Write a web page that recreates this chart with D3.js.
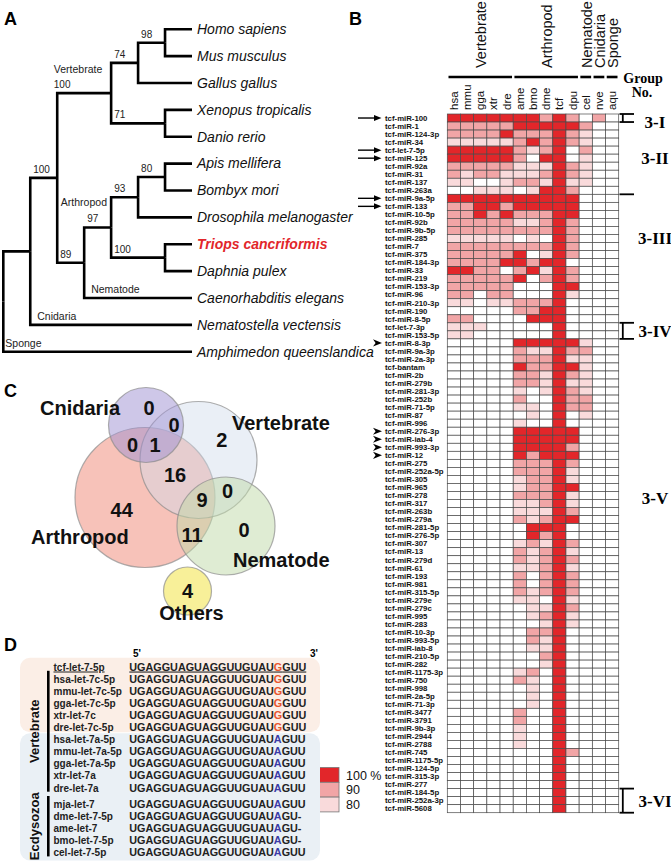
<!DOCTYPE html>
<html>
<head>
<meta charset="utf-8">
<script src="https://cdn.jsdelivr.net/npm/d3@7"></script>
<style>
  body { margin: 0; background: #fff; }
  svg { display: block; }
</style>
</head>
<body>
<svg id="fig" width="671" height="866"></svg>
<script>
// ---------------- data ----------------
// A: species tree (bootstrap values, clade names)
const treeData = {children: [
  {children: [
    {boot: 100, children: [
      {clade: "Vertebrate", boot: 100, children: [
        {boot: 74, children: [
          {boot: 98, children: [{name: "Homo sapiens"}, {name: "Mus musculus"}]},
          {name: "Gallus gallus"}]},
        {boot: 71, children: [{name: "Xenopus tropicalis"}, {name: "Danio rerio"}]}]},
      {boot: 89, children: [
        {clade: "Arthropod", boot: 97, children: [
          {boot: 93, children: [
            {boot: 80, children: [{name: "Apis mellifera"}, {name: "Bombyx mori"}]},
            {name: "Drosophila melanogaster"}]},
          {boot: 100, children: [{name: "Triops cancriformis", focus: true}, {name: "Daphnia pulex"}]}]},
        {name: "Caenorhabditis elegans", clade: "Nematode"}]}]},
    {name: "Nematostella vectensis", clade: "Cnidaria"}]},
  {name: "Amphimedon queenslandica", clade: "Sponge"}]};

// B: heatmap
const speciesCodes = ["hsa","mmu","gga","xtr","dre","ame","bmo","dme","tcf","dpu","cel","nve","aqu"];
const taxonGroups = [
  {name: "Vertebrate", codes: ["hsa","mmu","gga","xtr","dre"]},
  {name: "Arthropod", codes: ["ame","bmo","dme","tcf","dpu"]},
  {name: "Nematode", codes: ["cel"]},
  {name: "Cnidaria", codes: ["nve"]},
  {name: "Sponge", codes: ["aqu"]}
];
const mirnas = [
  "tcf-miR-100","tcf-miR-1","tcf-miR-124-3p","tcf-miR-34","tcf-let-7-5p","tcf-miR-125","tcf-miR-92a",
  "tcf-miR-31","tcf-miR-137","tcf-miR-263a","tcf-miR-9a-5p","tcf-miR-133","tcf-miR-10-5p","tcf-miR-92b",
  "tcf-miR-9b-5p","tcf-miR-285","tcf-miR-7","tcf-miR-375","tcf-miR-184-3p","tcf-miR-33","tcf-miR-219",
  "tcf-miR-153-3p","tcf-miR-96","tcf-miR-210-3p","tcf-miR-190","tcf-miR-8-5p","tcf-let-7-3p","tcf-miR-153-5p",
  "tcf-miR-8-3p","tcf-miR-9a-3p","tcf-miR-2a-3p","tcf-bantam","tcf-miR-2b","tcf-miR-279b","tcf-miR-281-3p",
  "tcf-miR-252b","tcf-miR-71-5p","tcf-miR-87","tcf-miR-996","tcf-miR-276-3p","tcf-miR-iab-4","tcf-miR-993-3p",
  "tcf-miR-12","tcf-miR-275","tcf-miR-252a-5p","tcf-miR-305","tcf-miR-965","tcf-miR-278","tcf-miR-317",
  "tcf-miR-263b","tcf-miR-279a","tcf-miR-281-5p","tcf-miR-276-5p","tcf-miR-307","tcf-miR-13","tcf-miR-279d",
  "tcf-miR-61","tcf-miR-193","tcf-miR-981","tcf-miR-315-5p","tcf-miR-279e","tcf-miR-279c","tcf-miR-995",
  "tcf-miR-283","tcf-miR-10-3p","tcf-miR-993-5p","tcf-miR-iab-8","tcf-miR-210-5p","tcf-miR-282",
  "tcf-miR-1175-3p","tcf-miR-750","tcf-miR-998","tcf-miR-2a-5p","tcf-miR-71-3p","tcf-miR-3477",
  "tcf-miR-3791","tcf-miR-9b-3p","tcf-miR-2944","tcf-miR-2788","tcf-miR-745","tcf-miR-1175-5p",
  "tcf-miR-124-5p","tcf-miR-315-3p","tcf-miR-277","tcf-miR-184-5p","tcf-miR-252a-3p","tcf-miR-5608"
];
// identity level per species (order of speciesCodes): 3 = 100 %, 2 = 90 %, 1 = 80 %, 0 = none
const identity = [
  "3333333232020","2222233333200","2222322232100","1111123232100","3333321230200","3333320330100",
  "2222211132100","2122111232100","1100122131100","0011101332000","3333333333000","2233233333000",
  "2232322233000","2222211232000","2222222232000","1111101032000","2222222232000","2222230132000",
  "2222332330000","3322023132000","2222230232000","2222200033000","2202200031000","1101122230000",
  "0000022330000","2200003330000","1110000030000","1100000030000","0000033333100","0000021132200",
  "0000022231100","0000032233100","0000022132100","0000022131100","0000010132100","0000020032200",
  "0000011032200","0000001030100","0000010030000","0000033333000","0000033333000","0000033332000",
  "0000032333000","0000022232000","0000022231000","0000012231000","0000012233000","0000022231000",
  "0000011231000","0000011132000","0000021233000","0000003330000","0000003230000","0000012132000",
  "0000021231000","0000021232000","0000011231000","0000020232000","0000020232000","0000021232000",
  "0000011031000","0000001132000","0000001231000","0000000131000","0000002230000","0000002130000",
  "0000001130000","0000000230000","0000000130000","0000012030000","0000021030000","0000001030000",
  "0000001030000","0000001030000","0000020030000","0000020030000","0000010030000","0000010030000",
  "0000010030000","0000000032000","0000000030000","0000000030000","0000000030000","0000000030000",
  "0000000030000","0000000030000","0000000030000"
];
const arrowRows = ["tcf-miR-100","tcf-let-7-5p","tcf-miR-125","tcf-miR-9a-5p","tcf-miR-133"];
const headRows = ["tcf-miR-8-3p","tcf-miR-276-3p","tcf-miR-iab-4","tcf-miR-993-3p","tcf-miR-12"];
const miGroups = [
  {label: "3-I",   first: "tcf-miR-100",   last: "tcf-miR-100",   bracket: true,  labelRow: 0.96},
  {label: "3-II",  first: "tcf-miR-1",     last: "tcf-miR-263a",  bracket: false, labelRow: 5.5},
  {label: "3-III", first: "tcf-miR-9a-5p", last: "tcf-miR-8-5p",  bracket: false, labelRow: 15.4},
  {label: "3-IV",  first: "tcf-let-7-3p",  last: "tcf-miR-153-5p",bracket: true,  labelRow: 27},
  {label: "3-V",   first: "tcf-miR-8-3p",  last: "tcf-miR-277",   bracket: false, labelRow: 47.8},
  {label: "3-VI",  first: "tcf-miR-184-5p",last: "tcf-miR-5608",  bracket: true,  labelRow: 85.6}
];
const legendLevels = [{code: 3, label: "100 %"}, {code: 2, label: "90"}, {code: 1, label: "80"}];

// C: Venn counts
const vennSets = ["Cnidaria","Vertebrate","Arthropod","Nematode","Others"];
const vennCounts = [
  {key: "C", n: 0}, {key: "CV", n: 0}, {key: "CA", n: 0}, {key: "CVA", n: 1},
  {key: "V", n: 2}, {key: "VA", n: 16}, {key: "VAN", n: 9}, {key: "VN", n: 0},
  {key: "A", n: 44}, {key: "AN", n: 11}, {key: "N", n: 0}, {key: "O", n: 4}
];

// D: let-7 alignment
const let7Names = ["tcf-let-7-5p","hsa-let-7c-5p","mmu-let-7c-5p","gga-let-7c-5p","xtr-let-7c","dre-let-7c-5p",
  "hsa-let-7a-5p","mmu-let-7a-5p","gga-let-7a-5p","xtr-let-7a","dre-let-7a",
  "mja-let-7","dme-let-7-5p","ame-let-7","bmo-let-7-5p","cel-let-7-5p"];
const let7Seqs = ["UGAGGUAGUAGGUUGUAUGGUU","UGAGGUAGUAGGUUGUAUGGUU","UGAGGUAGUAGGUUGUAUGGUU","UGAGGUAGUAGGUUGUAUGGUU",
  "UGAGGUAGUAGGUUGUAUGGUU","UGAGGUAGUAGGUUGUAUGGUU","UGAGGUAGUAGGUUGUAUAGUU","UGAGGUAGUAGGUUGUAUAGUU",
  "UGAGGUAGUAGGUUGUAUAGUU","UGAGGUAGUAGGUUGUAUAGUU","UGAGGUAGUAGGUUGUAUAGUU","UGAGGUAGUAGGUUGUAUAGUU",
  "UGAGGUAGUAGGUUGUAUAGU-","UGAGGUAGUAGGUUGUAUAGU-","UGAGGUAGUAGGUUGUAUAGU-","UGAGGUAGUAGGUUGUAUAGUU"];
const let7Clades = [{name: "Vertebrate", first: 1, last: 10}, {name: "Ecdysozoa", first: 11, last: 15}];
const variantPos = 18; // 0-based position of the G/A variant

// ---------------- drawing ----------------
const SANS = '"Liberation Sans", Arial, Helvetica, sans-serif';
const SERIF = '"Liberation Serif", "Times New Roman", serif';
const RED = "#e2262a";
const svg = d3.select("#fig").style("font-family", SANS);

function panelLabel(t, x, y) {
  svg.append("text").attr("x", x).attr("y", y).text(t)
    .attr("font-size", 18).attr("font-weight", "bold");
}
panelLabel("A", 4, 25); panelLabel("B", 349, 25); panelLabel("C", 4, 397); panelLabel("D", 4, 651);

// ---- A: tree ----
const root = d3.hierarchy(treeData);
d3.cluster().nodeSize([1, 1]).separation(() => 1)(root);
const leaves = root.leaves();
const tx = d3.scaleLinear().domain([0, d3.max(leaves, d => d.y)]).range([3.3, 192]);
const ty = d3.scaleLinear().domain(d3.extent(leaves, d => d.x)).range([29.3, 351.7]);
const gA = svg.append("g");

gA.selectAll("path.link")
  .data(root.descendants().filter(d => d.parent))
  .join("path")
    .attr("fill", "none").attr("stroke", "#000").attr("stroke-width", 2.6)
    .attr("d", d => `M${tx(d.parent.y)},${ty(d.parent.x)}V${ty(d.x)}H${tx(d.y)}`);

gA.selectAll("text.leaf")
  .data(leaves)
  .join("text")
    .attr("x", d => tx(d.y) + 5).attr("y", d => ty(d.x) + 4.8)
    .attr("font-size", 14).attr("font-style", "italic")
    .attr("font-weight", d => d.data.focus ? "bold" : "normal")
    .attr("fill", d => d.data.focus ? RED : "#111")
    .text(d => d.data.name);

gA.selectAll("text.boot")
  .data(root.descendants().filter(d => d.data.boot))
  .join("text")
    .attr("x", d => tx(d.parent.y) + (d.data.clade === "Vertebrate" ? -3.4 : 3))
    .attr("y", d => ty(d.x) - 5)
    .attr("font-size", 10).attr("fill", "#222")
    .text(d => d.data.boot);

const cladeOffset = {
  Vertebrate: {dx: -3.4, dy: -20}, Arthropod: {dx: -23.3, dy: -21},
  Nematode: {dx: 7, dy: -5}, Cnidaria: {dx: 7, dy: -5}, Sponge: {dx: 2, dy: -5}
};
gA.selectAll("text.clade")
  .data(root.descendants().filter(d => d.data.clade))
  .join("text")
    .attr("x", d => tx(d.parent.y) + cladeOffset[d.data.clade].dx)
    .attr("y", d => ty(d.x) + cladeOffset[d.data.clade].dy)
    .attr("font-size", 10.5).attr("fill", "#222")
    .text(d => d.data.clade);

// ---- B: heatmap ----
const gB = svg.append("g");
const colX = d3.scaleBand().domain(speciesCodes).range([447.3, 618.7]);
const rowY = d3.scaleBand().domain(mirnas).range([114, 812.7]);
const fillOf = d3.scaleOrdinal().domain([3, 2, 1, 0]).range([RED, "#f1a5a6", "#f9dadb", "#ffffff"]);

const cells = [];
mirnas.forEach((m, i) => identity[i].split("").map(Number).forEach((v, j) => cells.push({m, sp: speciesCodes[j], v})));
gB.selectAll("rect.cell")
  .data(cells)
  .join("rect")
    .attr("x", d => colX(d.sp)).attr("y", d => rowY(d.m))
    .attr("width", colX.bandwidth()).attr("height", rowY.bandwidth())
    .attr("fill", d => fillOf(d.v))
    .attr("stroke", "#4a4a4a").attr("stroke-width", 0.7);

gB.selectAll("text.row")
  .data(mirnas)
  .join("text")
    .attr("x", 385).attr("y", d => rowY(d) + rowY.bandwidth() / 2 + 2.8)
    .attr("font-size", 7.8).attr("font-weight", "bold").attr("fill", "#111")
    .text(d => d);

gB.selectAll("text.col")
  .data(speciesCodes)
  .join("text")
    .attr("transform", d => `translate(${colX(d) + colX.bandwidth() / 2 + 4},110) rotate(-90)`)
    .attr("font-size", 11.5).attr("fill", "#111")
    .text(d => d);

taxonGroups.forEach(g => {
  const x0 = colX(g.codes[0]) + 1.2, x1 = colX(g.codes[g.codes.length - 1]) + colX.bandwidth() - 1.2;
  gB.append("line").attr("x1", x0).attr("x2", x1).attr("y1", 77).attr("y2", 77)
    .attr("stroke", "#000").attr("stroke-width", 2.6);
  gB.append("text")
    .attr("transform", `translate(${(x0 + x1) / 2 + 6},68) rotate(-90)`)
    .attr("font-size", 14.5).attr("fill", "#111")
    .text(g.name);
});

gB.append("text").attr("x", 643).attr("y", 83).attr("text-anchor", "middle")
  .attr("font-family", SERIF).attr("font-weight", "bold").attr("font-size", 14).text("Group");
gB.append("text").attr("x", 642).attr("y", 97).attr("text-anchor", "middle")
  .attr("font-family", SERIF).attr("font-weight", "bold").attr("font-size", 14).text("No.");

// arrows
arrowRows.forEach(m => {
  const y = rowY(m) + rowY.bandwidth() / 2;
  gB.append("line").attr("x1", 358).attr("x2", 376).attr("y1", y).attr("y2", y)
    .attr("stroke", "#000").attr("stroke-width", 1.4);
  gB.append("path").attr("d", `M374,${y - 3}L381.5,${y}L374,${y + 3}Z`).attr("fill", "#000");
});
headRows.forEach(m => {
  const y = rowY(m) + rowY.bandwidth() / 2;
  gB.append("path").attr("d", `M373,${y - 3.6}L382,${y}L373,${y + 3.6}L375.6,${y}Z`).attr("fill", "#000");
});

// group brackets and labels
const gx0 = 619.5, gx1 = 634, gxv = 622.8;
miGroups.forEach((g, i) => {
  const top = rowY(g.first), bot = rowY(g.last) + rowY.bandwidth();
  const hline = y => gB.append("line").attr("x1", gx0).attr("x2", gx1).attr("y1", y).attr("y2", y)
    .attr("stroke", "#000").attr("stroke-width", 1.8);
  if (g.bracket) {
    hline(top); hline(bot);
    gB.append("line").attr("x1", gxv).attr("x2", gxv).attr("y1", top).attr("y2", bot)
      .attr("stroke", "#000").attr("stroke-width", 1.8);
  } else if (g.label === "3-II") {
    hline(bot);
  }
  gB.append("text").attr("x", 655).attr("y", 114 + g.labelRow * rowY.step() + 6)
    .attr("text-anchor", "middle").attr("font-family", SERIF).attr("font-weight", "bold")
    .attr("font-size", 17).text(g.label);
});

// legend
const lg = svg.append("g");
legendLevels.forEach((l, i) => {
  const y = 767.5 + i * 14.8;
  lg.append("rect").attr("x", 313).attr("y", y).attr("width", 26).attr("height", 14.8)
    .attr("fill", fillOf(l.code)).attr("stroke", "#777").attr("stroke-width", 0.8);
  lg.append("text").attr("x", 346).attr("y", y + 12).attr("font-size", 12.5).attr("fill", "#111").text(l.label);
});

// ---- C: Venn ----
const vennLayout = {
  Cnidaria:   {cx: 146,   cy: 425,   r: 37.5, fill: "#9d90d2", op: 0.5, lx: 40,  ly: 415, anchor: "start"},
  Vertebrate: {cx: 198.5, cy: 460,   r: 58.5, fill: "#d0dcea", op: 0.45, lx: 232, ly: 430, anchor: "start"},
  Arthropod:  {cx: 145,   cy: 497.5, r: 70,   fill: "#ef8674", op: 0.5, lx: 31,  ly: 544, anchor: "start"},
  Nematode:   {cx: 226,   cy: 526,   r: 49,   fill: "#c0d9a8", op: 0.5, lx: 233, ly: 567, anchor: "start"},
  Others:     {cx: 187.5, cy: 591,   r: 24,   fill: "#f5ea6e", op: 0.7, lx: 191.5, ly: 620, anchor: "middle"}
};
const countPos = {
  C: [149, 415], CV: [174, 432], CA: [132.5, 452], CVA: [155, 452], V: [221.7, 447], VA: [175, 482],
  VAN: [202, 507], VN: [227.5, 498], A: [121.7, 517], AN: [192, 542], N: [244, 537], O: [187.5, 598]
};
const gC = svg.append("g");
const drawOrder = ["Arthropod","Vertebrate","Nematode","Cnidaria","Others"];
gC.selectAll("circle")
  .data(drawOrder)
  .join("circle")
    .attr("cx", d => vennLayout[d].cx).attr("cy", d => vennLayout[d].cy).attr("r", d => vennLayout[d].r)
    .attr("fill", d => vennLayout[d].fill).attr("fill-opacity", d => vennLayout[d].op)
    .attr("stroke", "#8c8c8c").attr("stroke-opacity", 0.7).attr("stroke-width", 1.2);
gC.selectAll("text.set")
  .data(vennSets)
  .join("text")
    .attr("x", d => vennLayout[d].lx).attr("y", d => vennLayout[d].ly)
    .attr("text-anchor", d => vennLayout[d].anchor)
    .attr("font-size", 20).attr("font-weight", "bold").attr("fill", "#111")
    .text(d => d);
gC.selectAll("text.count")
  .data(vennCounts)
  .join("text")
    .attr("x", d => countPos[d.key][0]).attr("y", d => countPos[d.key][1])
    .attr("text-anchor", "middle")
    .attr("font-size", 20).attr("font-weight", "bold").attr("fill", "#111")
    .text(d => d.n);

// ---- D: alignment ----
const gD = svg.append("g");
const rowD = i => 666.7 + i * 12.1 + (i >= 11 ? 4.2 : 0);
gD.append("rect").attr("x", 20).attr("y", rowD(0) - 9).attr("width", 300).attr("height", rowD(5) + 5 - (rowD(0) - 9))
  .attr("rx", 10).attr("fill", "#fbeee6");
gD.append("rect").attr("x", 20).attr("y", rowD(6) - 6).attr("width", 300).attr("height", rowD(15) + 8 - (rowD(6) - 6))
  .attr("rx", 10).attr("fill", "#eaf0f5");

gD.append("text").attr("x", 133).attr("y", 657).attr("font-size", 10).attr("font-weight", "bold").text("5'");
gD.append("text").attr("x", 310).attr("y", 657).attr("font-size", 10).attr("font-weight", "bold").text("3'");

let7Names.forEach((n, i) => {
  const y = rowD(i) + 3.8;
  gD.append("text").attr("x", 53.5).attr("y", y).attr("font-size", 10).attr("font-weight", "bold")
    .attr("fill", "#222").attr("text-decoration", i === 0 ? "underline" : null).text(n);
  const s = let7Seqs[i];
  const t = gD.append("text").attr("x", 129.3).attr("y", y).attr("font-size", 10.8).attr("font-weight", "bold")
    .attr("fill", "#222").attr("text-decoration", i === 0 ? "underline" : null);
  t.append("tspan").text(s.slice(0, variantPos));
  t.append("tspan").attr("fill", s[variantPos] === "G" ? "#e8562e" : "#3b3ba6").text(s[variantPos]);
  t.append("tspan").text(s.slice(variantPos + 1));
});
let7Clades.forEach(c => {
  const y0 = rowD(c.first) - 8, y1 = rowD(c.last) + 4;
  gD.append("line").attr("x1", 48.3).attr("x2", 48.3).attr("y1", y0).attr("y2", y1)
    .attr("stroke", "#000").attr("stroke-width", 2.6);
  gD.append("text").attr("transform", `translate(39,${(y0 + y1) / 2}) rotate(-90)`)
    .attr("text-anchor", "middle").attr("font-size", 13).attr("font-weight", "bold").attr("fill", "#111")
    .text(c.name);
});
</script>
</body>
</html>
